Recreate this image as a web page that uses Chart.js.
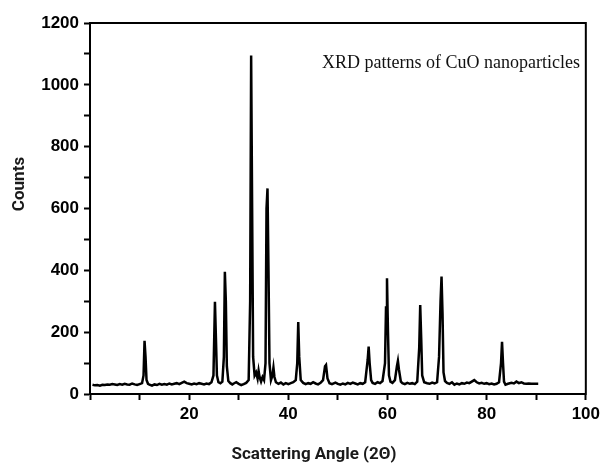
<!DOCTYPE html>
<html>
<head>
<meta charset="utf-8">
<script src="https://cdn.jsdelivr.net/npm/chart.js@4"></script>
<style>
  html, body { margin: 0; padding: 0; background: #fff; }
  #wrap { width: 604px; height: 466px; }
</style>
</head>
<body>
<div id="wrap"><canvas id="xrd"></canvas></div>
<script>
// XRD scan of CuO: angle (2 theta) and counts
const angles = [
    0.5, 1, 1.5, 2, 2.5, 3, 3.5, 4, 4.5, 5, 5.5, 6, 6.5, 7, 7.5, 8, 8.5, 9, 9.5, 10,
    10.5, 10.8, 11.0, 11.2, 11.4, 11.7, 12, 12.5, 13, 13.5, 14, 14.5, 15, 15.5, 16, 16.5,
    17, 17.5, 18, 18.5, 19, 19.5, 20, 20.5, 21, 21.5, 22, 22.5, 23, 23.5, 24, 24.5,
    24.9, 25.2, 25.4, 25.6, 25.9, 26.3, 26.7, 27.0, 27.2, 27.4, 27.6, 27.9, 28.3, 28.7,
    29, 29.5, 30, 30.5, 31, 31.5, 32, 32.3, 32.5, 32.7, 32.9, 33.2, 33.5, 33.8, 34.0,
    34.2, 34.5, 34.8, 35.1, 35.4, 35.6, 35.8, 36.0, 36.2, 36.5, 36.8, 37.0, 37.2, 37.5,
    38, 38.5, 39, 39.5, 40, 40.5, 41, 41.5, 41.8, 42.0, 42.2, 42.5, 43, 43.5, 44, 44.5,
    45, 45.5, 46, 46.5, 47.0, 47.4, 47.6, 47.9, 48.3, 48.8, 49.5, 50, 50.5, 51, 51.5,
    52, 52.5, 53, 53.5, 54, 54.5, 55, 55.5, 56.0, 56.2, 56.4, 56.7, 57, 57.5, 58, 58.5,
    59, 59.5, 59.7, 59.9, 60.1, 60.3, 60.6, 61, 61.5, 61.9, 62.1, 62.3, 62.7, 63, 63.5,
    64, 64.5, 65, 65.5, 66, 66.4, 66.6, 66.8, 67.0, 67.4, 68, 68.5, 69, 69.5, 70, 70.4,
    70.7, 70.9, 71.1, 71.3, 71.6, 72, 72.5, 73, 73.5, 74, 74.5, 75, 75.5, 76, 76.5, 77,
    77.5, 78, 78.5, 79, 79.5, 80, 80.5, 81, 81.5, 82, 82.5, 82.9, 83.1, 83.3, 83.5, 83.8,
    84.3, 85, 85.5, 86, 86.5, 87, 87.5, 88, 88.5, 89, 89.5, 90.4
];
const counts = [
    30, 28, 29, 27, 30, 29, 31, 30, 32, 31, 29, 32, 30, 33, 31, 30, 34, 31, 29, 32,
    35, 60, 172, 120, 45, 33, 30, 27, 31, 29, 33, 30, 32, 30, 34, 31,
    33, 35, 32, 36, 40, 35, 33, 31, 34, 32, 35, 33, 31, 34, 32, 38,
    60, 298, 180, 60, 38, 35, 40, 120, 395, 300, 90, 42, 35, 31,
    34, 38, 33, 29, 32, 36, 45, 300, 1095, 600, 120, 60, 70, 50, 75,
    55, 40, 55, 45, 100, 600, 665, 400, 100, 45, 60, 85, 55, 38,
    33, 37, 31, 35, 32, 35, 38, 45, 100, 233, 120, 45, 36, 32, 35, 33,
    38, 34, 31, 36, 45, 90, 94, 50, 35, 32, 37, 33, 30, 34, 31,
    36, 33, 37, 34, 31, 35, 33, 38, 110, 153, 100, 45, 36, 33, 38, 35,
    42, 100, 280, 374, 200, 60, 40, 36, 45, 90, 107, 80, 40, 35, 32,
    36, 33, 35, 32, 40, 150, 288, 180, 60, 38, 35, 33, 37, 34, 38, 120,
    300, 380, 260, 70, 42, 36, 33, 38, 30, 34, 31, 35, 33, 37, 35, 40,
    45, 38, 34, 36, 33, 35, 32, 34, 31, 33, 38, 100, 169, 100, 40, 30,
    33, 36, 34, 40, 35, 38, 34, 33, 34, 33, 33, 33
];

const xMin = 0, xMax = 100, xStep = 10;
const yMin = 0, yMax = 1200, yStep = 100;
const xTitle = 'Scattering Angle (2\u0398)';
const yTitle = 'Counts';
const noteText = 'XRD patterns of CuO nanoparticles';

const tickFont = { family: 'Liberation Sans, Arial, sans-serif', size: 17, weight: 'bold' };
const titleFont = 'bold 17px Roboto, "Liberation Sans", sans-serif';

// box round the plot, axis titles and the caption inside it
const framePlugin = {
    id: 'frame',
    afterDraw(chart) {
        const { ctx, chartArea } = chart;
        ctx.save();
        ctx.strokeStyle = '#000';
        ctx.lineWidth = 2;
        ctx.strokeRect(chartArea.left, chartArea.top, chartArea.right - chartArea.left, chartArea.bottom - chartArea.top);

        // caption
        ctx.fillStyle = '#111';
        ctx.font = '18px "Liberation Serif", "Times New Roman", serif';
        ctx.textBaseline = 'middle';
        ctx.textAlign = 'left';
        ctx.fillText(noteText, chartArea.left + 232, chartArea.top + 40);

        // axis titles (sit a little off centre in the original)
        ctx.font = titleFont;
        ctx.fillStyle = '#1a1a1a';
        ctx.textAlign = 'center';
        ctx.fillText(xTitle, 314, 455);
        ctx.translate(20, 184);
        ctx.rotate(-Math.PI / 2);
        ctx.fillText(yTitle, 0, 0);
        ctx.restore();
    }
};

const points = angles.map((a, i) => ({ x: a, y: counts[i] }));

new Chart(document.getElementById('xrd'), {
    type: 'line',
    data: {
        datasets: [{
            data: points,
            borderColor: '#000',
            borderWidth: 2.5,
            pointRadius: 0,
            tension: 0,
            fill: false
        }]
    },
    options: {
        responsive: true,
        maintainAspectRatio: false,
        animation: false,
        layout: { padding: { left: 0, right: 17, top: 23, bottom: 0 } },
        plugins: {
            legend: { display: false },
            tooltip: { enabled: false }
        },
        scales: {
            x: {
                type: 'linear',
                min: xMin,
                max: xMax,
                border: { display: true, color: '#000', width: 2 },
                grid: { drawOnChartArea: false, drawTicks: true, tickLength: 6, tickColor: '#000', tickWidth: 2 },
                ticks: {
                    stepSize: xStep,
                    color: '#000',
                    font: tickFont,
                    padding: 4,
                    maxRotation: 0,
                    callback: v => (v % 20 === 0 && v !== 0) ? v : ''
                },
                afterFit(scale) { scale.height = 72; }
            },
            y: {
                type: 'linear',
                min: yMin,
                max: yMax,
                border: { display: true, color: '#000', width: 2 },
                grid: { drawOnChartArea: false, drawTicks: true, tickLength: 6, tickColor: '#000', tickWidth: 2 },
                ticks: {
                    stepSize: yStep,
                    color: '#000',
                    font: tickFont,
                    padding: 5,
                    callback: v => (v % 200 === 0) ? v : ''
                },
                afterFit(scale) { scale.width = 90; }
            }
        }
    },
    plugins: [framePlugin]
});
</script>
</body>
</html>
